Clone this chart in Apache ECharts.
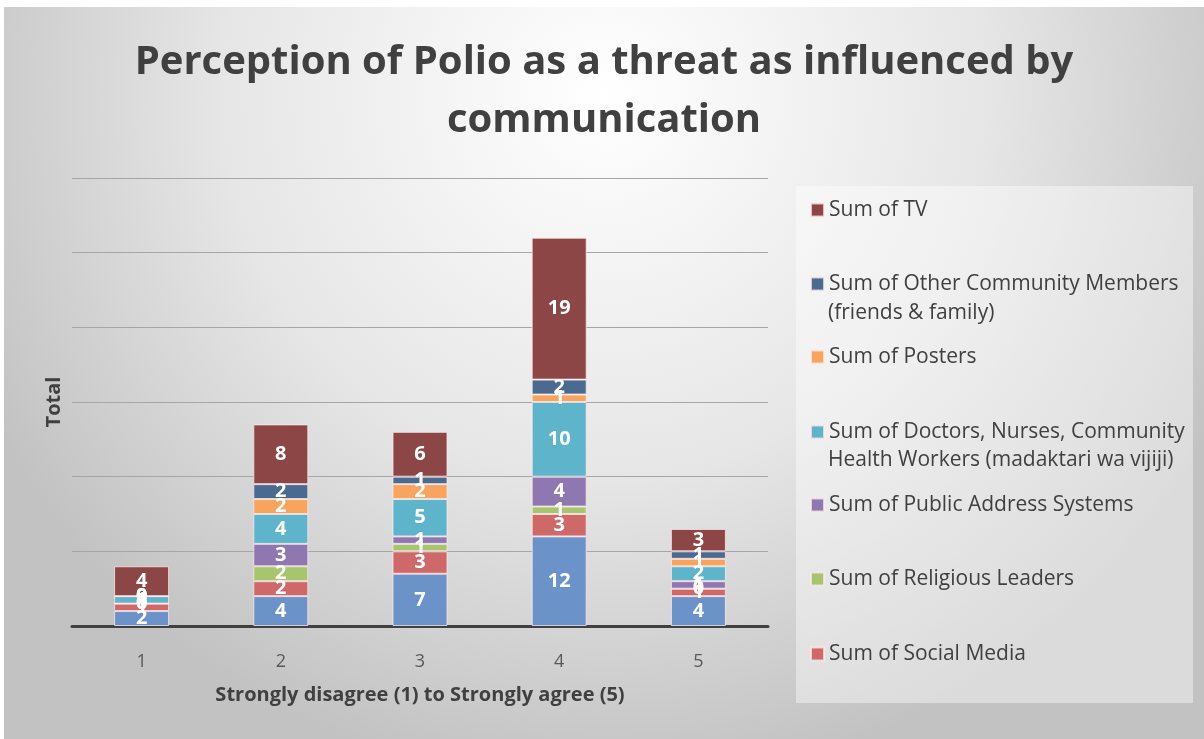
<!DOCTYPE html>
<html>
<head>
<meta charset="utf-8">
<script src="https://cdn.jsdelivr.net/npm/echarts@6/dist/echarts.min.js"></script>
<style>
  html, body { margin: 0; padding: 0; background: #ffffff; width: 1204px; height: 739px; overflow: hidden; }
  #chart { position: absolute; left: 4px; top: 7px; width: 1200px; height: 732px; }
</style>
</head>
<body>
<div id="chart"></div>
<script>
// Agreement scale (1 = strongly disagree, 5 = strongly agree)
const categories = ['1', '2', '3', '4', '5'];

// Totals per communication channel, stacked bottom to top
const radio     = [2, 4, 7, 12, 4];
const social    = [1, 2, 3, 3, 1];
const religious = [0, 2, 1, 1, 0];
const pa        = [0, 3, 1, 4, 1];
const doctors   = [1, 4, 5, 10, 2];
const posters   = [0, 2, 2, 1, 1];
const others    = [0, 2, 1, 2, 1];
const tv        = [4, 8, 6, 19, 3];

const yTicks = [0, 10, 20, 30, 40, 50, 60];

const FONT = '"Open Sans", "DejaVu Sans", sans-serif';

const seriesDefs = [
  { name: 'Sum of Radio', data: radio, color: '#6b93c9' },
  { name: 'Sum of Social Media', data: social, color: '#cf6868' },
  { name: 'Sum of Religious Leaders', data: religious, color: '#a7c56e' },
  { name: 'Sum of Public Address Systems', data: pa, color: '#8f77b1' },
  { name: 'Sum of Doctors, Nurses, Community Health Workers (madaktari wa vijiji)', data: doctors, color: '#5db4cb', first: 'Sum of Doctors, Nurses, Community', second: 'Health Workers (madaktari wa vijiji)' },
  { name: 'Sum of Posters', data: posters, color: '#f8a35e' },
  { name: 'Sum of Other Community Members (friends & family)', data: others, color: '#4b6a8f', first: 'Sum of Other Community Members', second: '(friends & family)' },
  { name: 'Sum of TV', data: tv, color: '#8c4646' }
];

// Legend entries listed top to bottom (page y of first and second text lines)
const legendRows = [
  { idx: 7, y: 210 },
  { idx: 6, y: 284, y2: 313 },
  { idx: 5, y: 357 },
  { idx: 4, y: 432, y2: 460 },
  { idx: 3, y: 505 },
  { idx: 2, y: 579 },
  { idx: 1, y: 654 }
];

const OX = 4, OY = 7; // chart container offset in the page
const LEGEND_SIZE = 21;
const legendFont = { fontSize: LEGEND_SIZE, color: '#404040', fontFamily: FONT, lineHeight: 24 };

const legends = legendRows.map(r => {
  const d = seriesDefs[r.idx];
  return {
    data: [d.name],
    left: 810 - OX,
    top: r.y - 12 - OY,
    padding: 0,
    itemWidth: 13,
    itemHeight: 13,
    icon: 'rect',
    selectedMode: false,
    formatter: () => d.first || d.name,
    textStyle: legendFont
  };
});

const graphics = [
  {
    type: 'rect',
    silent: true,
    z: -1,
    shape: { x: 796 - OX, y: 186 - OY, width: 1193 - 796, height: 703 - 186 },
    style: { fill: 'rgba(255,255,255,0.42)' }
  }
];
legendRows.forEach(r => {
  const d = seriesDefs[r.idx];
  if (d.second) {
    graphics.push({
      type: 'text',
      silent: true,
      left: 828 - OX,
      top: r.y2 - 12 - OY,
      style: { text: d.second, fill: '#404040', font: LEGEND_SIZE + 'px ' + FONT, lineHeight: 24 }
    });
  }
});

const chart = echarts.init(document.getElementById('chart'), null, { renderer: 'canvas' });

chart.setOption({
  animation: false,
  backgroundColor: {
    type: 'radial', x: 0.5, y: 0.12, r: 0.95,
    colorStops: [
      { offset: 0, color: '#ffffff' },
      { offset: 0.55, color: '#e6e6e6' },
      { offset: 1, color: '#c2c2c2' }
    ]
  },
  title: {
    text: 'Perception of Polio as a threat as influenced by\ncommunication',
    left: 'center',
    top: 27,
    padding: 0,
    textStyle: { fontSize: 40, fontWeight: 'bold', color: '#404040', fontFamily: FONT, lineHeight: 58 }
  },
  legend: legends,
  graphic: graphics,
  grid: { left: 68, right: 436, top: 171, bottom: 113, containLabel: false },
  xAxis: {
    type: 'category',
    data: categories,
    axisTick: { show: false },
    axisLine: { lineStyle: { color: '#404040', width: 3 } },
    axisLabel: { margin: 27, fontSize: 18, color: '#595959', fontFamily: FONT },
    name: 'Strongly disagree (1) to Strongly agree (5)',
    nameLocation: 'middle',
    nameGap: 59,
    nameTextStyle: { fontSize: 20, fontWeight: 'bold', color: '#404040', fontFamily: FONT }
  },
  yAxis: {
    type: 'value',
    min: yTicks[0],
    max: yTicks[yTicks.length - 1],
    interval: yTicks[1] - yTicks[0],
    axisLine: { show: false },
    axisTick: { show: false },
    axisLabel: { show: false },
    splitLine: { lineStyle: { color: '#a6a6a6', width: 1 } },
    name: 'Total',
    nameLocation: 'middle',
    nameGap: 8,
    nameTextStyle: { fontSize: 20, fontWeight: 'bold', color: '#404040', fontFamily: FONT }
  },
  series: seriesDefs.map(d => ({
    name: d.name,
    type: 'bar',
    stack: 'total',
    barWidth: 55,
    data: d.data,
    itemStyle: { color: d.color, borderColor: 'rgba(255,235,235,0.75)', borderWidth: 1 },
    label: {
      show: true,
      position: 'inside',
      color: '#ffffff',
      fontSize: 20,
      fontWeight: 'bold',
      fontFamily: FONT
    }
  }))
});
</script>
</body>
</html>
